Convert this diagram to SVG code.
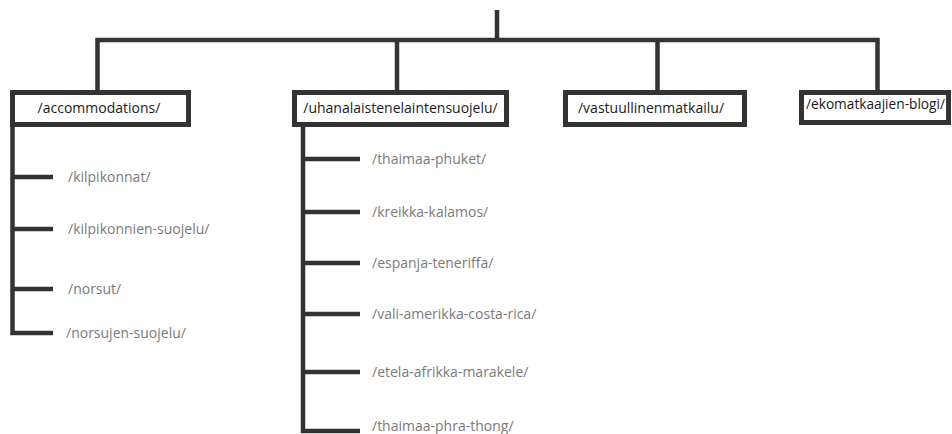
<svg xmlns="http://www.w3.org/2000/svg" width="952" height="434" viewBox="0 0 952 434">
  <style>
    .line { stroke: #333333; stroke-width: 4.5; fill: none; stroke-linecap: butt; }
    .box { fill: #ffffff; stroke: #333333; stroke-width: 5; }
    .label { font-family: "Open Sans", "Liberation Sans", sans-serif; font-size: 14px; fill: #1a1a1a; }
    .page { font-family: "Open Sans", "Liberation Sans", sans-serif; font-size: 14px; fill: #7a7a7a; }
  </style>
  <rect width="952" height="434" fill="#ffffff"/>

  <!-- connectors -->
  <g id="connectors">
    <path class="line" d="M497 10 V40"/>
    <path class="line" d="M97.5 90 V40 H877.5 V90"/>
    <path class="line" d="M397 40 V90"/>
    <path class="line" d="M657.5 40 V90"/>
    <!-- accommodations subtree -->
    <path class="line" d="M12.5 127 V333 H53"/>
    <path class="line" d="M12.5 177 H53"/>
    <path class="line" d="M12.5 229 H53"/>
    <path class="line" d="M12.5 289 H53"/>
    <!-- uhanalaiset subtree -->
    <path class="line" d="M303 127 V431 H360"/>
    <path class="line" d="M303 159 H360"/>
    <path class="line" d="M303 212 H360"/>
    <path class="line" d="M303 263 H360"/>
    <path class="line" d="M303 314 H360"/>
    <path class="line" d="M303 372 H360"/>
  </g>

  <g id="accommodations">
    <rect class="box" x="12.5" y="92.5" width="176" height="32"/>
    <text class="label" x="99" y="113" text-anchor="middle">/accommodations/</text>
  </g>
  <g id="uhanalaiset">
    <rect class="box" x="294.5" y="92.5" width="212" height="32"/>
    <text class="label" x="400.5" y="113" text-anchor="middle">/uhanalaistenelaintensuojelu/</text>
  </g>
  <g id="vastuullinen">
    <rect class="box" x="565.5" y="92.5" width="179" height="32"/>
    <text class="label" x="651" y="113" text-anchor="middle">/vastuullinenmatkailu/</text>
  </g>
  <g id="ekomatkaajat">
    <rect class="box" x="801.5" y="92.5" width="147" height="30"/>
    <text class="label" x="806" y="109" textLength="139" lengthAdjust="spacingAndGlyphs">/ekomatkaajien-blogi/</text>
  </g>

  <g id="kilpikonnat"><text class="page" x="68" y="182">/kilpikonnat/</text></g>
  <g id="kilpikonnien-suojelu"><text class="page" x="68" y="234">/kilpikonnien-suojelu/</text></g>
  <g id="norsut"><text class="page" x="68" y="294">/norsut/</text></g>
  <g id="norsujen-suojelu"><text class="page" x="66" y="338">/norsujen-suojelu/</text></g>

  <g id="thaimaa-phuket"><text class="page" x="372" y="164">/thaimaa-phuket/</text></g>
  <g id="kreikka-kalamos"><text class="page" x="372" y="217">/kreikka-kalamos/</text></g>
  <g id="espanja-teneriffa"><text class="page" x="372" y="268">/espanja-teneriffa/</text></g>
  <g id="vali-amerikka-costa-rica"><text class="page" x="372" y="319">/vali-amerikka-costa-rica/</text></g>
  <g id="etela-afrikka-marakele"><text class="page" x="372" y="377">/etela-afrikka-marakele/</text></g>
  <g id="thaimaa-phra-thong"><text class="page" x="372" y="431">/thaimaa-phra-thong/</text></g>
</svg>
